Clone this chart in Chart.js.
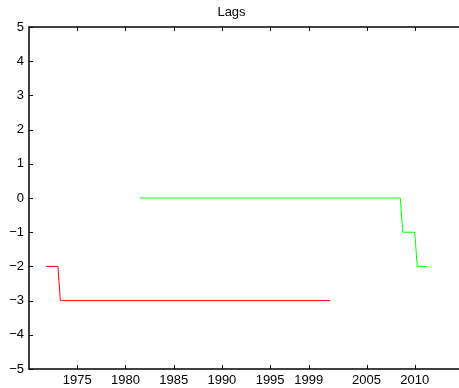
<!DOCTYPE html>
<html>
<head>
<meta charset="utf-8">
<script src="https://cdn.jsdelivr.net/npm/chart.js@4/dist/chart.umd.min.js"></script>
<style>
html,body{margin:0;padding:0;background:#fff;overflow:hidden;width:459px;height:388px;}
canvas{display:block;}
</style>
</head>
<body>
<canvas id="c" width="470" height="388"></canvas>
<script>
const chartTitle = "Lags";
const xTickValues = [1975, 1980, 1985, 1990, 1995, 1999, 2005, 2010];
const yTickValues = [-5, -4, -3, -2, -1, 0, 1, 2, 3, 4, 5];
const redYears = [1971.75, 1973.0, 1973.25, 2001.25];
const redLags = [-2, -2, -3, -3];
const greenYears = [1981.5, 2008.5, 2008.75, 2010.0, 2010.25, 2011.25];
const greenLags = [0, 0, -1, -1, -2, -2];

const toPts = (xs, ys) => xs.map((x, i) => ({x: x, y: ys[i]}));
const FONT = {family: '"Liberation Sans", Arial, Helvetica, sans-serif', size: 13};

const boxPlugin = {
  id: 'box',
  afterDraw(chart) {
    const {ctx, chartArea: a, scales} = chart;
    ctx.save();
    ctx.strokeStyle = '#000';
    ctx.lineWidth = 1;
    // inward ticks
    ctx.beginPath();
    xTickValues.forEach(v => {
      const px = Math.round(scales.x.getPixelForValue(v)) + 0.5;
      ctx.moveTo(px, a.bottom); ctx.lineTo(px, a.bottom - 4);
      ctx.moveTo(px, a.top); ctx.lineTo(px, a.top + 4);
    });
    yTickValues.forEach(v => {
      const py = Math.round(scales.y.getPixelForValue(v)) + 0.5;
      ctx.moveTo(a.left, py); ctx.lineTo(a.left + 4, py);
      ctx.moveTo(a.right, py); ctx.lineTo(a.right - 4, py);
    });
    ctx.stroke();
    ctx.lineWidth = 1.5;
    ctx.strokeRect(a.left, a.top, a.right - a.left, a.bottom - a.top);
    ctx.restore();
  }
};

new Chart(document.getElementById('c'), {
  type: 'line',
  data: {
    datasets: [
      {data: toPts(redYears, redLags), borderColor: '#ff0000', borderWidth: 1, pointRadius: 0, fill: false, tension: 0},
      {data: toPts(greenYears, greenLags), borderColor: '#00ff00', borderWidth: 1, pointRadius: 0, fill: false, tension: 0}
    ]
  },
  options: {
    responsive: false,
    animation: false,
    events: [],
    layout: {padding: {left: 0, right: 7, top: 0, bottom: 0}},
    plugins: {
      legend: {display: false},
      tooltip: {enabled: false},
      title: {display: true, text: chartTitle, color: '#000', font: {...FONT, weight: 'normal'}, padding: {top: 5, bottom: 6.4}}
    },
    scales: {
      x: {
        type: 'linear', min: 1970, max: 2015,
        grid: {display: false, drawTicks: false},
        border: {display: false},
        afterBuildTicks: s => { s.ticks = xTickValues.map(v => ({value: v})); },
        afterFit: s => { s.height = 19; },
        ticks: {color: '#000', font: FONT, padding: 4, maxRotation: 0, autoSkip: false, callback: v => String(v)}
      },
      y: {
        type: 'linear', min: -5, max: 5,
        grid: {display: false, drawTicks: false},
        border: {display: false},
        afterBuildTicks: s => { s.ticks = yTickValues.map(v => ({value: v})); },
        afterFit: s => { s.width = 29; },
        ticks: {color: '#000', font: FONT, padding: 5, callback: v => v < 0 ? '\u2212' + Math.abs(v) : String(v)}
      }
    }
  },
  plugins: [boxPlugin]
});
</script>
</body>
</html>
